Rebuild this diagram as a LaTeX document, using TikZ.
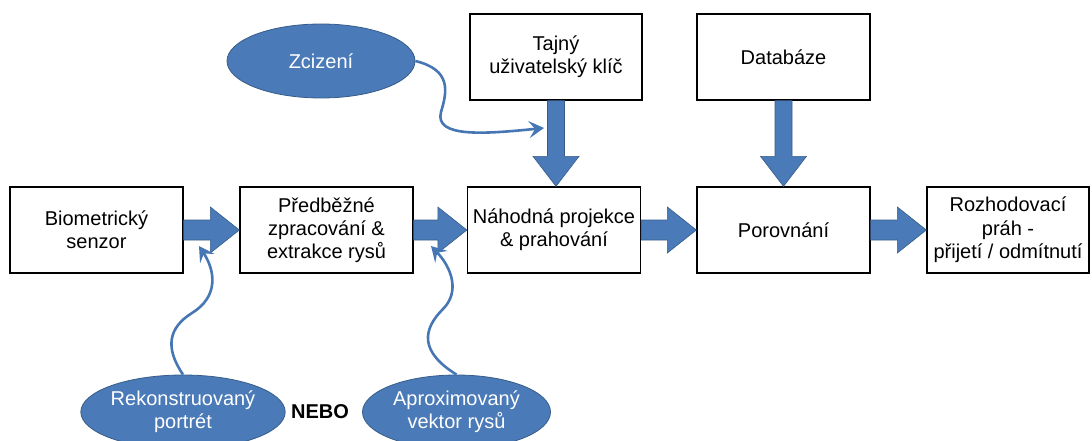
\documentclass[tikz,border=0pt]{standalone}
\usepackage{fontspec}
\setmainfont{Liberation Sans}
\usetikzlibrary{calc,arrows.meta,shapes.geometric}
\definecolor{bfill}{HTML}{4A7AB7}
\definecolor{bline}{HTML}{385D8A}
\definecolor{cline}{HTML}{4677B4}
\tikzset{
  stage/.style={draw=black, line width=1.3pt, fill=white, minimum width=173pt, minimum height=86pt,
    align=center, inner sep=2pt, font=\fontsize{20pt}{23pt}\selectfont},
  threat/.style={ellipse, draw=bline, line width=0.8pt, fill=bfill, minimum width=188pt, minimum height=74pt,
    inner sep=0pt, align=center, text=white, font=\fontsize{20pt}{23pt}\selectfont},
  barrow/.style={fill=bfill, draw=bline, line width=0.6pt, line join=miter},
  attack/.style={draw=cline, line width=2.6pt, -{Stealth[length=15pt,width=17pt,inset=6pt]}},
}
% horizontal block arrow between two stages
\newcommand\hblock[2]{%
  \filldraw[barrow] ($(#1.east)+(0,-10)$) -- ($(#2.west)+(-29,-10)$) -- ($(#2.west)+(-29,-23)$)
    -- (#2.west) -- ($(#2.west)+(-29,23)$) -- ($(#2.west)+(-29,10)$) -- ($(#1.east)+(0,10)$) -- cycle;}
% vertical block arrow from a source box down to a stage
\newcommand\vblock[2]{%
  \filldraw[barrow] ($(#1.south)+(-8.5,0)$) -- ($(#1.south|-#2.north)+(-8.5,-30)$) -- ($(#1.south|-#2.north)+(-23,-30)$)
    -- (#1.south|-#2.north) -- ($(#1.south|-#2.north)+(23,-30)$) -- ($(#1.south|-#2.north)+(8.5,-30)$) -- ($(#1.south)+(8.5,0)$) -- cycle;}
\begin{document}
\begin{tikzpicture}[x=1pt,y=-1pt]
  \useasboundingbox (0,0) rectangle (1092,441);

  % processing chain
  \node[stage] (bio) at (96.5,230) {Biometrický\\senzor};
  \node[stage] (pre) at (326.5,230) {Předběžné\\zpracování \&\\extrakce rysů};
  \node[stage] (nah) at (554,230) {Náhodná projekce\\\& prahování};
  \node[stage] (por) at (783.5,230) {Porovnání};
  \node[stage, minimum width=162pt, font=\fontsize{20pt}{23.5pt}\selectfont] (roz) at (1008,230) {Rozhodovací\\práh -\\přijetí / odmítnutí};

  % side inputs
  \node[stage, minimum width=172pt] (taj) at (556,57) {Tajný\\uživatelský klíč};
  \node[stage] (db) at (783.5,57) {Databáze};

  % data flow
  \hblock{bio}{pre}
  \hblock{pre}{nah}
  \hblock{nah}{por}
  \hblock{por}{roz}
  \vblock{taj}{nah}
  \vblock{db}{por}

  % attack points
  \node[threat] (zci) at (321,61) {Zcizení};
  \node[threat] (rek) at (183,412) {Rekonstruovaný\\portrét};
  \node[threat] (apx) at (456.5,412) {Aproximovaný\\vektor rysů};
  \node[font=\bfseries\fontsize{20pt}{23pt}\selectfont] (nebo) at (320,412) {NEBO};

  \coordinate (tzci) at (544,128);
  \coordinate (trek) at (199,246);
  \coordinate (tapx) at (431,246);

  \draw[attack] (zci.east) .. controls (452,70) and (447,92) .. (441,112)
    .. controls (434,138) and (485,134) .. (tzci);
  \draw[attack] (rek.north) .. controls (165,348) and (168,328) .. (192,313)
    .. controls (218,297) and (216,272) .. (trek);
  \draw[attack] (apx.north) .. controls (420,352) and (422,330) .. (443,309)
    .. controls (460,292) and (452,268) .. (tapx);
\end{tikzpicture}
\end{document}
